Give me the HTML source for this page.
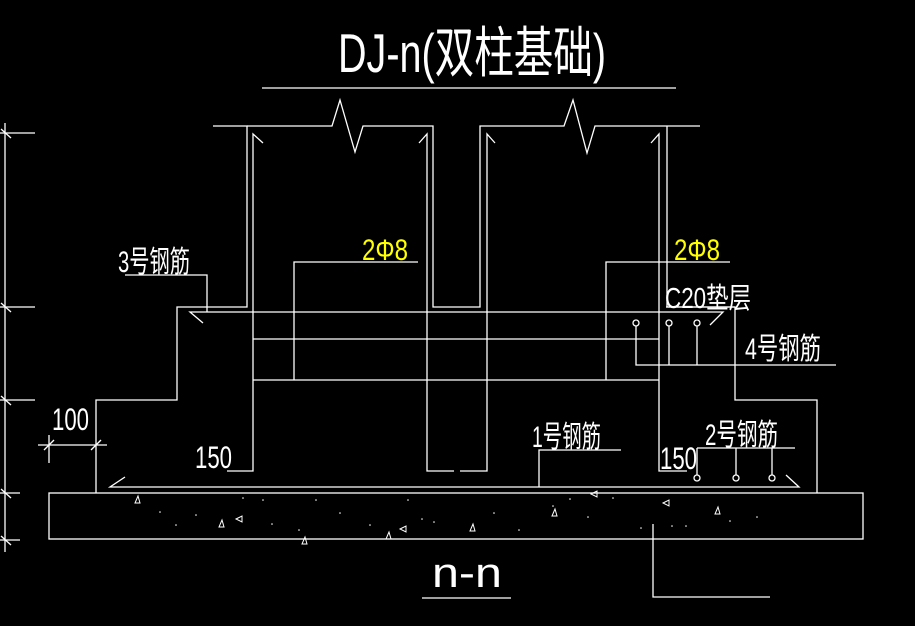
<!DOCTYPE html>
<html><head><meta charset="utf-8"><style>
html,body{margin:0;padding:0;background:#000;width:915px;height:626px;overflow:hidden}
svg{display:block}
text{font-family:"Liberation Sans","Noto Sans CJK SC",sans-serif;font-weight:normal}
</style></head><body>
<svg width="915" height="626" viewBox="0 0 915 626" xmlns="http://www.w3.org/2000/svg">
<rect width="915" height="626" fill="#000"/>
<g stroke="#fff" stroke-width="1.3" fill="none">
<line x1="262" y1="88" x2="676" y2="88"/>
<line x1="5" y1="123" x2="5" y2="552"/>
<line x1="0" y1="133" x2="35" y2="133"/><line x1="0" y1="307" x2="35" y2="307"/>
<line x1="0" y1="400" x2="35" y2="400"/><line x1="0" y1="493" x2="20" y2="493"/>
<line x1="0" y1="540" x2="20" y2="540"/>
<line x1="1" y1="129" x2="11" y2="138"/><line x1="1" y1="303" x2="11" y2="312"/>
<line x1="1" y1="396" x2="11" y2="405"/><line x1="1" y1="489" x2="11" y2="498"/>
<line x1="1" y1="536" x2="11" y2="545"/>
<polyline points="213,126 247,126 247,307 177,307 177,400 96,400 96,493"/>
<polyline points="247,126 332,126 340,100 355,152 363,126 433,126 433,307 480,307 480,126 564,126 573,100 587,153 595,126 700,126"/>
<polyline points="667,126 667,307 735,307 735,400 817,400 817,493"/>
<polyline points="263,143 253,134 253,471 227,471"/>
<polyline points="419,143 427,134 427,471 454,471"/>
<polyline points="495,143 487,134 487,471 460,471"/>
<polyline points="651,143 659,134 659,471 687,471"/>
<polyline points="203,323 190,312 723,312 710,325"/>
<line x1="253" y1="339" x2="659" y2="339"/>
<line x1="253" y1="380" x2="659" y2="380"/>
<polyline points="294,380 294,262 418,262"/>
<polyline points="606,380 606,262 730,262"/>
<polyline points="125,275 207,275 207,312"/>
<circle cx="636" cy="323" r="3"/><circle cx="669" cy="323" r="3"/><circle cx="697" cy="323" r="3"/>
<polyline points="636,326 636,365 836,365"/>
<line x1="669" y1="326" x2="669" y2="365"/><line x1="697" y1="326" x2="697" y2="365"/>
<line x1="666" y1="307" x2="735" y2="307"/>
<polyline points="125,477 110,487 799,487 786,475"/>
<polyline points="621,450 539,450 539,487"/>
<line x1="697" y1="448" x2="795" y2="448"/>
<line x1="697" y1="448" x2="697" y2="475"/><line x1="736" y1="448" x2="736" y2="475"/><line x1="772" y1="448" x2="772" y2="475"/>
<circle cx="697" cy="478" r="3"/><circle cx="736" cy="478" r="3"/><circle cx="772" cy="478" r="3"/>
<line x1="38" y1="445" x2="107" y2="445"/>
<line x1="49" y1="435" x2="49" y2="463"/>
<line x1="44" y1="450" x2="54" y2="440"/><line x1="91" y1="450" x2="101" y2="440"/>
<rect x="49" y="493" width="814" height="46"/>
<polyline points="653,524 653,597 770,597"/>
<line x1="422" y1="598" x2="511" y2="598"/>
<g stroke-width="1">
<path d="M138,496 l-3,7 h5z"/><path d="M222,520 l-3,7 h5z"/><path d="M305,537 l-3,7 h5z"/>
<path d="M389,532 l-3,7 h5z"/><path d="M473,524 l-3,7 h5z"/><path d="M718,507 l-3,7 h5z"/>
<path d="M555,509 l-3,7 h5z"/><path d="M236,519 l6,-3 v6z"/><path d="M400,529 l6,-3 v6z"/>
<path d="M663,503 l6,-3 v6z"/><path d="M591,494 l6,-3 v6z"/>
</g>
</g>
<g fill="#fff">
<circle cx="160" cy="512" r="0.8"/><circle cx="176" cy="525" r="0.8"/><circle cx="196" cy="515" r="0.8"/>
<circle cx="243" cy="498" r="0.8"/><circle cx="263" cy="500" r="0.8"/><circle cx="272" cy="524" r="0.8"/>
<circle cx="299" cy="530" r="0.8"/><circle cx="316" cy="500" r="0.8"/><circle cx="340" cy="513" r="0.8"/>
<circle cx="370" cy="525" r="0.8"/><circle cx="408" cy="500" r="0.8"/><circle cx="422" cy="519" r="0.8"/>
<circle cx="434" cy="522" r="0.8"/><circle cx="494" cy="513" r="0.8"/><circle cx="519" cy="530" r="0.8"/>
<circle cx="553" cy="506" r="0.8"/><circle cx="570" cy="499" r="0.8"/><circle cx="588" cy="517" r="0.8"/>
<circle cx="613" cy="498" r="0.8"/><circle cx="641" cy="528" r="0.8"/><circle cx="672" cy="526" r="0.8"/>
<circle cx="686" cy="526" r="0.8"/><circle cx="730" cy="521" r="0.8"/><circle cx="757" cy="517" r="0.8"/>
</g>
<g fill="#fff">
<text transform="translate(338,72) scale(1,1.25)" font-size="44" textLength="268" lengthAdjust="spacingAndGlyphs">DJ-n(双柱基础)</text>
<text transform="translate(118,272) scale(1,1.15)" font-size="26" textLength="72" lengthAdjust="spacingAndGlyphs">3号钢筋</text>
<text transform="translate(665,308) scale(1,1.15)" font-size="25" textLength="86" lengthAdjust="spacingAndGlyphs">C20垫层</text>
<text transform="translate(745,359) scale(1,1.15)" font-size="26" textLength="76" lengthAdjust="spacingAndGlyphs">4号钢筋</text>
<text transform="translate(532,447) scale(1,1.15)" font-size="26" textLength="69" lengthAdjust="spacingAndGlyphs">1号钢筋</text>
<text transform="translate(705,445) scale(1,1.15)" font-size="26" textLength="73" lengthAdjust="spacingAndGlyphs">2号钢筋</text>
<text transform="translate(52,430) scale(1,1.2)" font-size="26" textLength="37" lengthAdjust="spacingAndGlyphs">100</text>
<text transform="translate(195,468) scale(1,1.2)" font-size="26" textLength="37" lengthAdjust="spacingAndGlyphs">150</text>
<text transform="translate(660,469) scale(1,1.2)" font-size="26" textLength="37" lengthAdjust="spacingAndGlyphs">150</text>
<text transform="translate(432,587) scale(1,1.5)" font-size="28" textLength="70" lengthAdjust="spacingAndGlyphs">n-n</text>
</g>
<g fill="#ffff00">
<text transform="translate(362,260) scale(1,1.15)" font-size="26" textLength="46" lengthAdjust="spacingAndGlyphs">2Φ8</text>
<text transform="translate(674,260) scale(1,1.15)" font-size="26" textLength="46" lengthAdjust="spacingAndGlyphs">2Φ8</text>
</g>
</svg>
</body></html>
